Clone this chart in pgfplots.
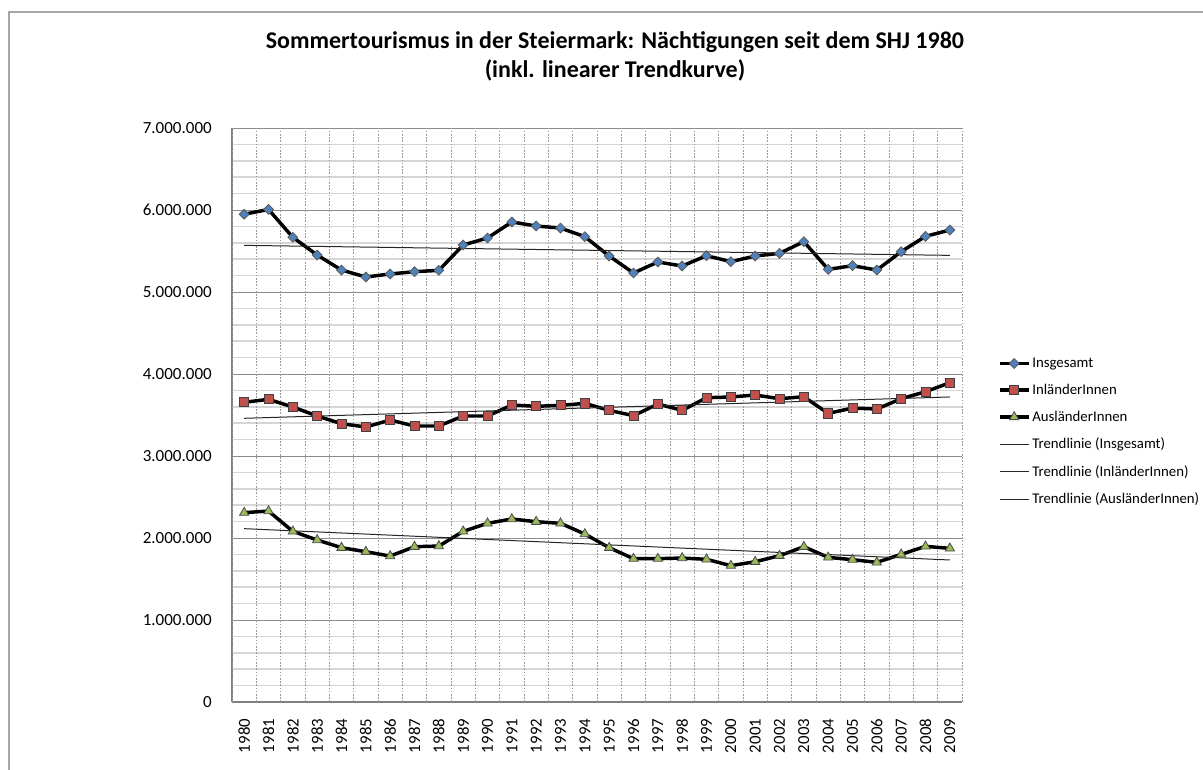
\documentclass[border=0pt]{standalone}
\usepackage{fontspec}
\setmainfont{Carlito}
\usepackage{pgfplots}
\usepackage{pgfplotstable}
\pgfplotsset{compat=1.18}

\definecolor{xlblue}{HTML}{4F81BD}
\definecolor{xlred}{HTML}{C0504D}
\definecolor{xlgreen}{HTML}{9BBB59}

% Naechtigungen Sommerhalbjahr (gelesen aus der Grafik)
\pgfplotstableread{
year ges     inl     aus
1980 5948000 3655000 2309000
1981 6007000 3691000 2329000
1982 5667000 3598000 2081000
1983 5451000 3488000 1976000
1984 5268000 3394000 1882000
1985 5183000 3354000 1833000
1986 5220000 3439000 1780000
1987 5248000 3366000 1894000
1988 5264000 3366000 1902000
1989 5573000 3488000 2081000
1990 5659000 3488000 2179000
1991 5854000 3622000 2232000
1992 5805000 3606000 2199000
1993 5780000 3618000 2179000
1994 5675000 3642000 2049000
1995 5439000 3557000 1882000
1996 5232000 3492000 1748000
1997 5366000 3634000 1748000
1998 5317000 3557000 1756000
1999 5443000 3711000 1740000
2000 5370000 3720000 1663000
2001 5439000 3744000 1711000
2002 5472000 3699000 1784000
2003 5614000 3723000 1894000
2004 5276000 3520000 1764000
2005 5321000 3585000 1736000
2006 5268000 3573000 1703000
2007 5492000 3699000 1801000
2008 5679000 3784000 1898000
2009 5756000 3894000 1874000
}\naecht

% lineare Trendlinien, Endpunkte
\pgfplotstableread{
year ges     inl     aus
1980 5569000 3460000 2114000
2009 5447000 3720000 1732000
}\trend

\begin{document}
\begin{tikzpicture}
\useasboundingbox (0,0) rectangle (902.25pt,-576.75pt);
\draw[black!35, line width=0.9pt] (6.75pt,-580pt) -- (6.75pt,-9pt) -- (905pt,-9pt);
\node[anchor=base, font=\bfseries\fontsize{18}{21}\selectfont] at (461.25pt,-36.2pt)
  {Sommertourismus in der Steiermark: Nächtigungen seit dem SHJ 1980};
\node[anchor=base, font=\bfseries\fontsize{18}{21}\selectfont] at (461.25pt,-57.75pt)
  {(inkl. linearer Trendkurve)};
\begin{axis}[
  at={(174pt,-526.5pt)}, anchor=south west,
  width=547.5pt, height=430.5pt, scale only axis,
  xmin=1979.5, xmax=2009.5, ymin=0, ymax=7000000,
  xtick={1980,...,2009},
  ytick={0,1000000,...,7000000},
  minor y tick num=4,
  scaled y ticks=false,
  major tick length=0pt, minor tick length=0pt,
  axis x line*=bottom, axis y line*=left,
  axis line style={black!50, line width=0.8pt, -},
  ymajorgrids, yminorgrids,
  major grid style={black!45, line width=0.75pt},
  minor grid style={black!16, line width=1.3pt},
  extra x ticks={1979.5,1980.5,...,2009.5},
  extra x tick labels={},
  extra x tick style={xmajorgrids=true, major tick length=0pt,
    major grid style={black!40, line width=0.5pt, dash pattern=on 1.2pt off 1.2pt}},
  /pgf/number format/assume math mode=true,
  yticklabel style={font=\fontsize{12.75}{15}\selectfont, anchor=east, inner sep=0pt, xshift=-15pt,
    /pgf/number format/.cd, fixed, precision=0, 1000 sep={.}},
  xticklabel style={font=\fontsize{12.6}{15}\selectfont, yshift=-12.5pt, rotate=90, anchor=east, inner sep=0pt,
    /pgf/number format/1000 sep={}},
  legend style={at={(1.049,0.471)}, anchor=west, draw=none, fill=none, inner sep=0pt,
    font=\fontsize{11.1}{13}\selectfont, row sep=8pt,
    nodes={inner sep=1.5pt}},
  legend cell align=left,
  legend image code/.code={\draw[mark repeat=2,mark phase=2]
    plot coordinates {(0cm,0cm) (0.38cm,0cm) (0.76cm,0cm)};},
]
\addplot[black, line width=2.6pt, mark=square*, mark size=2.6pt,
  mark options={rotate=45, fill=xlblue, draw=black!65, line width=0.6pt, solid}]
  table[x=year, y=ges] {\naecht};
\addlegendentry{Insgesamt}
\addplot[black, line width=2.6pt, mark=square*, mark size=3.4pt,
  mark options={fill=xlred, draw=black!75, line width=0.6pt, solid}]
  table[x=year, y=inl] {\naecht};
\addlegendentry{InländerInnen}
\addplot[black, line width=2.6pt, mark=triangle*, mark size=4pt,
  mark options={fill=xlgreen, draw=black!70, line width=0.6pt, solid}]
  table[x=year, y=aus] {\naecht};
\addlegendentry{AusländerInnen}
\addplot[black!85, line width=0.75pt, no marks] table[x=year, y=ges] {\trend};
\addlegendentry{Trendlinie (Insgesamt)}
\addplot[black!85, line width=0.75pt, no marks] table[x=year, y=inl] {\trend};
\addlegendentry{Trendlinie (InländerInnen)}
\addplot[black!85, line width=0.75pt, no marks] table[x=year, y=aus] {\trend};
\addlegendentry{Trendlinie (AusländerInnen)}
\end{axis}
\end{tikzpicture}
\end{document}
